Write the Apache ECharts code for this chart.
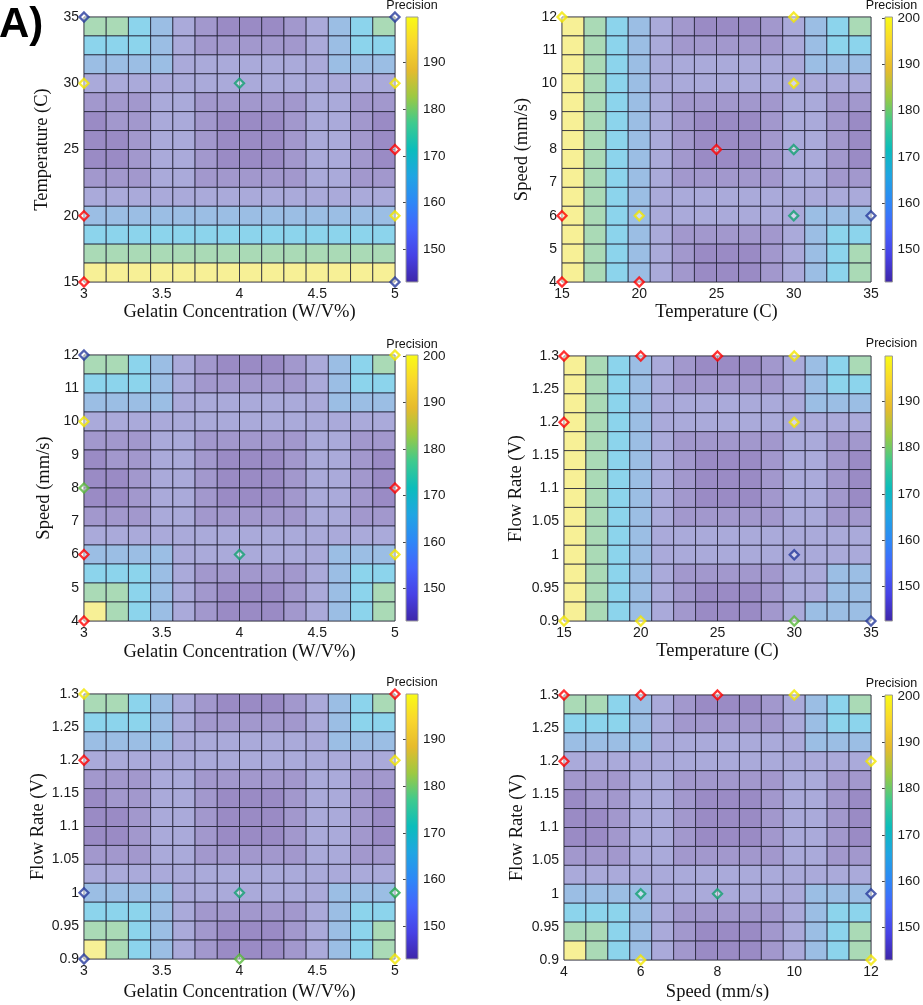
<!DOCTYPE html>
<html><head><meta charset="utf-8">
<script src="https://cdn.jsdelivr.net/npm/echarts@6/dist/echarts.min.js"></script>
<style>html,body{margin:0;padding:0;background:#fff}#c{width:923px;height:1005px}</style>
</head><body><div id="c"></div>
<script>
// ---------- axis ranges / ticks ----------
const gelatinRange = [3, 5];   const gelatinInterval = 0.5;
const tempRange = [15, 35];    const tempInterval = 5;
const speedRange = [4, 12];    const speedInterval = 1;   const speedIntervalX = 2;
const flowRange = [0.9, 1.3];  const flowInterval = 0.05;
const colorbarTicks = [150, 160, 170, 180, 190, 200];

// ---------- precision surfaces (rows: top = max y, 14 x 14) ----------
const precTempGelatin = [
 [178,178,168,161,155,150,147,147,147,150,155,161,168,178],
 [168,168,168,161,155,150,150,150,150,150,155,161,168,168],
 [161,161,161,161,155,155,155,155,155,155,155,161,161,161],
 [155,155,155,155,155,155,155,155,155,155,155,155,155,155],
 [150,150,150,155,155,150,150,150,150,150,155,155,150,150],
 [147,150,150,155,155,150,147,147,147,150,155,155,150,147],
 [147,147,150,155,155,150,147,147,147,150,155,155,150,147],
 [147,147,150,155,155,150,147,147,147,150,155,155,150,147],
 [150,150,150,155,155,150,150,150,150,150,155,155,150,150],
 [155,155,155,155,155,155,155,155,155,155,155,155,155,155],
 [161,161,161,161,161,161,161,161,161,161,161,161,161,161],
 [168,168,168,168,168,168,168,168,168,168,168,168,168,168],
 [178,178,178,178,178,178,178,178,178,178,178,178,178,178],
 [198,198,198,198,198,198,198,198,198,198,198,198,198,198]
];
const precSpeedTemp = [
 [198,178,168,161,155,150,147,147,147,150,155,161,168,178],
 [198,178,168,161,155,150,150,150,150,150,155,161,168,168],
 [198,178,168,161,155,155,155,155,155,155,155,161,161,161],
 [198,178,168,161,155,155,155,155,155,155,155,155,155,155],
 [198,178,168,161,155,150,150,150,150,150,155,155,150,150],
 [198,178,168,161,155,150,147,147,147,150,155,155,150,147],
 [198,178,168,161,155,150,147,147,147,150,155,155,150,147],
 [198,178,168,161,155,150,147,147,147,150,155,155,150,147],
 [198,178,168,161,155,150,150,150,150,150,155,155,150,150],
 [198,178,168,161,155,155,155,155,155,155,155,155,155,155],
 [198,178,168,161,155,155,155,155,155,155,155,161,161,161],
 [198,178,168,161,155,150,150,150,150,150,155,161,168,168],
 [198,178,168,161,155,150,147,147,147,150,155,161,168,178],
 [198,178,168,161,155,150,147,147,147,150,155,161,168,178]
];
const precSpeedGelatin = [
 [178,178,168,161,155,150,147,147,147,150,155,161,168,178],
 [168,168,168,161,155,150,150,150,150,150,155,161,168,168],
 [161,161,161,161,155,155,155,155,155,155,155,161,161,161],
 [155,155,155,155,155,155,155,155,155,155,155,155,155,155],
 [150,150,150,155,155,150,150,150,150,150,155,155,150,150],
 [147,150,150,155,155,150,147,147,147,150,155,155,150,147],
 [147,147,150,155,155,150,147,147,147,150,155,155,150,147],
 [147,147,150,155,155,150,147,147,147,150,155,155,150,147],
 [150,150,150,155,155,150,150,150,150,150,155,155,150,150],
 [155,155,155,155,155,155,155,155,155,155,155,155,155,155],
 [161,161,161,161,155,155,155,155,155,155,155,161,161,161],
 [168,168,168,161,155,150,150,150,150,150,155,161,168,168],
 [178,178,168,161,155,150,147,147,147,150,155,161,168,178],
 [198,178,168,161,155,150,147,147,147,150,155,161,168,178]
];
const precFlowTemp = [
 [198,178,168,161,155,150,147,147,147,150,155,161,168,178],
 [198,178,168,161,155,150,150,150,150,150,155,161,168,168],
 [198,178,168,161,155,155,155,155,155,155,155,161,161,161],
 [198,178,168,161,155,155,155,155,155,155,155,155,155,155],
 [198,178,168,161,155,150,150,150,150,150,155,155,150,150],
 [198,178,168,161,155,150,147,147,147,150,155,155,150,147],
 [198,178,168,161,155,150,147,147,147,150,155,155,150,147],
 [198,178,168,161,155,150,147,147,147,150,155,155,150,147],
 [198,178,168,161,155,150,150,150,150,150,155,155,150,150],
 [198,178,168,161,155,155,155,155,155,155,155,155,155,155],
 [198,178,168,161,155,155,155,155,155,155,155,155,155,155],
 [198,178,168,161,155,150,150,150,150,150,155,155,161,161],
 [198,178,168,161,155,150,147,147,147,150,155,155,161,161],
 [198,178,168,161,155,150,147,147,147,150,155,161,161,161]
];
const precFlowGelatin = [
 [178,178,168,161,155,150,147,147,147,150,155,161,168,178],
 [168,168,168,161,155,150,150,150,150,150,155,161,168,168],
 [161,161,161,161,155,155,155,155,155,155,155,161,161,161],
 [155,155,155,155,155,155,155,155,155,155,155,155,155,155],
 [150,150,150,155,155,150,150,150,150,150,155,155,150,150],
 [147,150,150,155,155,150,147,147,147,150,155,155,150,147],
 [147,147,150,155,155,150,147,147,147,150,155,155,150,147],
 [147,147,150,155,155,150,147,147,147,150,155,155,150,147],
 [150,150,150,155,155,150,150,150,150,150,155,155,150,150],
 [155,155,155,155,155,155,155,155,155,155,155,155,155,155],
 [161,161,161,161,155,155,155,155,155,155,155,161,161,161],
 [168,168,168,161,155,150,150,150,150,150,155,161,168,168],
 [178,178,168,161,155,150,147,147,147,150,155,161,168,178],
 [198,178,168,161,155,150,147,147,147,150,155,161,168,178]
];
const precFlowSpeed = [
 [178,178,168,161,155,150,147,147,147,150,155,161,168,178],
 [168,168,168,161,155,150,150,150,150,150,155,161,168,168],
 [161,161,161,161,155,155,155,155,155,155,155,161,161,161],
 [155,155,155,155,155,155,155,155,155,155,155,155,155,155],
 [150,150,150,155,155,150,150,150,150,150,155,155,150,150],
 [147,150,150,155,155,150,147,147,147,150,155,155,150,147],
 [147,147,150,155,155,150,147,147,147,150,155,155,150,147],
 [147,147,150,155,155,150,147,147,147,150,155,155,150,147],
 [150,150,150,155,155,150,150,150,150,150,155,155,150,150],
 [155,155,155,155,155,155,155,155,155,155,155,155,155,155],
 [161,161,161,161,155,155,155,155,155,155,155,161,161,161],
 [168,168,168,161,155,150,150,150,150,150,155,161,168,168],
 [178,178,168,161,155,150,147,147,147,150,155,161,168,178],
 [198,178,168,161,155,150,147,147,147,150,155,161,168,178]
];

// ---------- colour-bar ranges ----------
const cbRangeTempGelatin = [143, 199.8];
const cbRangeSpeedTemp = [143, 200.2];
const cbRangeSpeedGelatin = [143, 200.2];
const cbRangeFlowTemp = [142.5, 199.8];
const cbRangeFlowGelatin = [143, 199.8];
const cbRangeFlowSpeed = [143, 200.2];

// ---------- measured points [x, y, class] ----------
const ptsTempGelatin = [[3,35,'low'],[5,35,'low'],[3,30,'high'],[4,30,'mid'],[5,30,'high'],[5,25,'out'],[3,20,'out'],[5,20,'high'],[3,15,'out'],[5,15,'low']];
const ptsSpeedTemp = [[15,12,'high'],[30,12,'high'],[30,10,'high'],[25,8,'out'],[30,8,'mid'],[15,6,'out'],[20,6,'high'],[30,6,'mid'],[35,6,'low'],[15,4,'out'],[20,4,'out']];
const ptsSpeedGelatin = [[3,12,'low'],[5,12,'high'],[3,10,'high'],[3,8,'midHigh'],[5,8,'out'],[3,6,'out'],[4,6,'mid'],[5,6,'high'],[3,4,'out']];
const ptsFlowTemp = [[15,1.3,'out'],[20,1.3,'out'],[25,1.3,'out'],[30,1.3,'high'],[15,1.2,'out'],[30,1.2,'high'],[30,1.0,'low'],[15,0.9,'high'],[20,0.9,'high'],[30,0.9,'midHigh'],[35,0.9,'low']];
const ptsFlowGelatin = [[3,1.3,'high'],[5,1.3,'out'],[3,1.2,'out'],[5,1.2,'high'],[3,1.0,'low'],[4,1.0,'mid'],[5,1.0,'mid2'],[3,0.9,'low'],[4,0.9,'midHigh'],[5,0.9,'high']];
const ptsFlowSpeed = [[4,1.3,'out'],[6,1.3,'out'],[8,1.3,'out'],[10,1.3,'high'],[4,1.2,'out'],[12,1.2,'high'],[6,1.0,'mid'],[8,1.0,'mid'],[12,1.0,'low'],[6,0.9,'high'],[12,0.9,'high']];

// ---------- styles ----------
const pointColor = {out:'#ff0000', high:'#f2e600', mid:'#12a070', mid2:'#22a84a', midHigh:'#58b83a', low:'#263a9c'};
const parula = ['#3e26a8','#4741e5','#4563fd','#2e87f7','#20a5e3','#0bbdbc','#3fca8e','#9dc942','#e6bb2d','#f9d62d','#f9fb15'];
const cellPieces = [
  {gte:190, color:'#f7f096'},
  {gte:172, lt:190, color:'#aadab6'},
  {gte:164, lt:172, color:'#8cd4ec'},
  {gte:158, lt:164, color:'#9bbee4'},
  {gte:152.5, lt:158, color:'#aaaada'},
  {gte:148.5, lt:152.5, color:'#a298cd'},
  {lt:148.5, color:'#9a8bc5'}
];
const SANS = 'Liberation Sans, Arial, Helvetica, sans-serif';
const SERIF = 'Liberation Serif, Times New Roman, serif';

const axisDefs = {
  gelatin:{range:gelatinRange, interval:gelatinInterval, name:'Gelatin Concentration (W/V%)'},
  temp:{range:tempRange, interval:tempInterval, name:'Temperature (C)'},
  speed:{range:speedRange, interval:speedInterval, name:'Speed (mm/s)'},
  flow:{range:flowRange, interval:flowInterval, name:'Flow Rate (V)'}
};

const panels = [
  {x:'gelatin', y:'temp', cells:precTempGelatin, pts:ptsTempGelatin, cb:cbRangeTempGelatin,
   grid:{left:84, top:17, width:311, height:265}, cbLeft:406, cbWidth:12, yGap:32, xGap:21, titleY:6},
  {x:'temp', y:'speed', cells:precSpeedTemp, pts:ptsSpeedTemp, cb:cbRangeSpeedTemp,
   grid:{left:562, top:17, width:309, height:265}, cbLeft:885, cbWidth:13, yGap:30, xGap:21, titleY:6},
  {x:'gelatin', y:'speed', cells:precSpeedGelatin, pts:ptsSpeedGelatin, cb:cbRangeSpeedGelatin,
   grid:{left:84, top:355, width:311, height:266}, cbLeft:406, cbWidth:12, yGap:30, xGap:22, titleY:345},
  {x:'temp', y:'flow', cells:precFlowTemp, pts:ptsFlowTemp, cb:cbRangeFlowTemp,
   grid:{left:564, top:356, width:307, height:265}, cbLeft:885, cbWidth:13, yGap:38, xGap:21, titleY:344},
  {x:'gelatin', y:'flow', cells:precFlowGelatin, pts:ptsFlowGelatin, cb:cbRangeFlowGelatin,
   grid:{left:84, top:694, width:311, height:265}, cbLeft:406, cbWidth:12, yGap:36, xGap:24, titleY:683},
  {x:'speed', y:'flow', cells:precFlowSpeed, pts:ptsFlowSpeed, cb:cbRangeFlowSpeed, xInterval:speedIntervalX,
   grid:{left:564, top:695, width:307, height:265}, cbLeft:885, cbWidth:13, yGap:37, xGap:23, titleY:684}
];

function buildCells(matrix, xr, yr) {
  const nRows = matrix.length, nCols = matrix[0].length;
  const dx = (xr[1]-xr[0])/nCols, dy = (yr[1]-yr[0])/nRows;
  const out = [];
  matrix.forEach((row, r) => {
    const yTop = yr[1] - r*dy;
    row.forEach((v, c) => {
      const x0 = xr[0] + c*dx;
      out.push([x0, yTop - dy, x0 + dx, yTop, v]);
    });
  });
  return out;
}

function renderCell(params, api) {
  const a = api.coord([api.value(0), api.value(3)]);
  const b = api.coord([api.value(2), api.value(1)]);
  return {type:'rect', shape:{x:a[0], y:a[1], width:b[0]-a[0], height:b[1]-a[1]},
    style:{fill:api.visual('color'), stroke:'rgba(30,30,50,0.75)', lineWidth:1}};
}
function renderBar(params, api) {
  const a = api.coord([api.value(0), api.value(3)]);
  const b = api.coord([api.value(2), api.value(1)]);
  const stops = parula.map((c, i) => ({offset:i/(parula.length-1), color:c}));
  return {type:'rect', shape:{x:a[0], y:a[1], width:b[0]-a[0], height:b[1]-a[1]},
    style:{fill:{type:'linear', x:0, y:1, x2:0, y2:0, colorStops:stops}, stroke:'#9a9a9a', lineWidth:1}};
}

const grid = [], xAxis = [], yAxis = [], series = [], graphic = [], cellSeriesIdx = [];
const tickLabel = {fontFamily:SANS, fontSize:14, color:'#1a1a1a'};
const nameStyle = {fontFamily:SERIF, fontSize:18.5, color:'#111'};

panels.forEach((p, k) => {
  const ax = axisDefs[p.x], ay = axisDefs[p.y];
  grid.push(Object.assign({show:true, borderColor:'#a0a0a0', borderWidth:1, backgroundColor:'transparent'}, p.grid));
  const gi = grid.length - 1;
  xAxis.push({type:'value', gridIndex:gi, min:ax.range[0], max:ax.range[1], interval:p.xInterval || ax.interval,
    name:ax.name, nameLocation:'middle', nameGap:p.xGap, nameTextStyle:nameStyle,
    axisLine:{show:false}, axisTick:{show:false}, splitLine:{show:false},
    axisLabel:Object.assign({margin:5}, tickLabel)});
  yAxis.push({type:'value', gridIndex:gi, min:ay.range[0], max:ay.range[1], interval:ay.interval,
    name:ay.name, nameLocation:'middle', nameGap:p.yGap, nameRotate:90, nameTextStyle:nameStyle,
    axisLine:{show:false}, axisTick:{show:false}, splitLine:{show:false},
    axisLabel:Object.assign({margin:5}, tickLabel)});
  const xi = xAxis.length - 1, yi = yAxis.length - 1;
  cellSeriesIdx.push(series.length);
  series.push({type:'custom', xAxisIndex:xi, yAxisIndex:yi, renderItem:renderCell,
    data:buildCells(p.cells, ax.range, ay.range), encode:{x:[0,2], y:[1,3]}, z:2, silent:true});
  series.push({type:'scatter', xAxisIndex:xi, yAxisIndex:yi, clip:false, z:5, silent:true,
    symbol:'diamond', symbolSize:9,
    data:p.pts.map(d => ({value:[d[0], d[1]],
      itemStyle:{color:'rgba(255,255,255,0.6)', borderColor:pointColor[d[2]], borderWidth:2.3}}))});

  grid.push({left:p.cbLeft, top:p.grid.top, width:p.cbWidth, height:p.grid.height, show:false});
  const cg = grid.length - 1;
  xAxis.push({type:'value', gridIndex:cg, min:0, max:1, show:false});
  const ticks = colorbarTicks.filter(t => t >= p.cb[0] && t <= p.cb[1]);
  yAxis.push({type:'value', gridIndex:cg, min:p.cb[0], max:p.cb[1], position:'right',
    axisLine:{show:false}, splitLine:{show:false},
    axisTick:{show:true, inside:true, length:3, customValues:ticks, lineStyle:{color:'#444'}},
    axisLabel:{customValues:ticks, margin:5, fontFamily:SANS, fontSize:13.5, color:'#1a1a1a'}});
  series.push({type:'custom', xAxisIndex:xAxis.length-1, yAxisIndex:yAxis.length-1,
    renderItem:renderBar, data:[[0, p.cb[0], 1, p.cb[1]]], encode:{x:[0,2], y:[1,3]}, z:2, silent:true});
  graphic.push({type:'text', x:p.cbLeft + p.cbWidth/2, y:p.titleY,
    style:{text:'Precision', align:'center', verticalAlign:'middle', font:'12.5px ' + SANS, fill:'#111'}});
});

graphic.push({type:'text', x:-1, y:4,
  style:{text:'A)', align:'left', verticalAlign:'top', font:'bold 42px ' + SANS, fill:'#000'}});

const chart = echarts.init(document.getElementById('c'), null, {renderer:'canvas'});
chart.setOption({
  animation:false,
  backgroundColor:'#fff',
  grid, xAxis, yAxis, series, graphic,
  visualMap:[{type:'piecewise', show:false, seriesIndex:cellSeriesIdx, dimension:4, pieces:cellPieces}]
});
</script></body></html>
